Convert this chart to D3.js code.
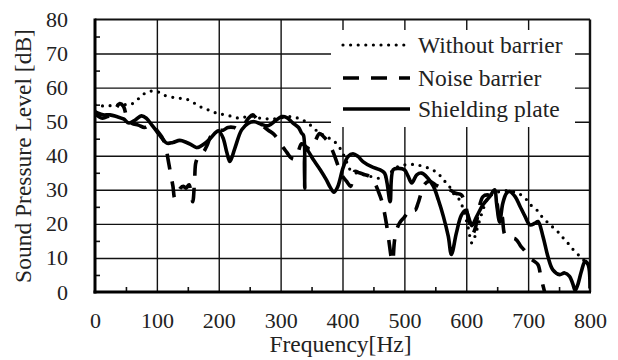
<!DOCTYPE html>
<html>
<head>
<meta charset="utf-8">
<script src="https://cdn.jsdelivr.net/npm/d3@7/dist/d3.min.js"></script>
<style>
  html, body { margin: 0; padding: 0; background: #fff; }
  svg { display: block; }
  text { font-family: "Liberation Serif", "Times New Roman", serif; fill: #222; }
</style>
</head>
<body>
<svg id="chart" width="618" height="360"></svg>
<script>
// Frequency axis ticks and level axis ticks
const xTicks = [0, 100, 200, 300, 400, 500, 600, 700, 800];
const yTicks = [0, 10, 20, 30, 40, 50, 60, 70, 80];
const seriesNames = ["Without barrier", "Noise barrier", "Shielding plate"];

// Without barrier (dotted)
const freqWithout = [0, 8, 16, 24, 32, 40, 48, 57, 67, 77, 88, 100, 110, 124, 136, 148, 160, 170, 180, 191, 200, 210, 223, 234, 245, 255, 265, 275, 285, 300, 312, 323, 334, 345, 355, 369, 380, 388, 396, 405, 412, 423, 433, 444, 458, 470, 480, 490, 504, 517, 530, 544, 555, 563, 571, 579, 587, 594, 603, 609, 614, 618, 622, 627, 635, 646, 660, 673, 684, 695, 704, 714, 722, 730, 739, 749, 757, 765, 774, 784, 792, 800];
const dbWithout = [55, 54.7, 54.6, 54.7, 54.8, 55, 55, 55, 56.2, 57.9, 58.9, 58.9, 57.9, 57.2, 56.9, 56.6, 55.5, 54.4, 53.7, 52.8, 52.4, 52, 51.5, 51, 51.5, 51.6, 51.1, 50.9, 50.8, 51.1, 51.5, 51.3, 50.6, 49.5, 47.8, 46.1, 45, 44, 42.2, 39, 36, 34.9, 34.5, 34, 33.4, 34, 35.5, 36.8, 37.4, 37.4, 36.9, 36, 34.7, 32.9, 31.5, 29, 27.6, 25, 19, 14.4, 16.3, 18.8, 21.2, 24.1, 27.6, 29, 29.7, 29.6, 29, 27.6, 25.6, 24.1, 22.2, 20.7, 19.2, 17.5, 15.8, 14.2, 12.2, 10.4, 9, 8];

// Noise barrier (dashed)
const freqNoise = [0, 6, 12, 20, 28, 34, 40, 46, 52, 60, 70, 80, 88, 95, 100, 108, 114, 118, 122, 126, 129, 133, 138, 143, 147, 152, 155, 158, 161, 163, 168, 175, 181, 188, 195, 200, 207, 215, 225, 232, 240, 248, 255, 262, 270, 280, 288, 295, 302, 310, 316, 322, 328, 334, 342, 348, 355, 363, 370, 377, 385, 393, 400, 407, 413, 420, 427, 435, 444, 452, 458, 463, 467, 471, 475, 479, 481, 484, 488, 493, 500, 510, 517, 522, 527, 532, 540, 550, 560, 573, 583, 592, 598, 604, 610, 615, 620, 627, 634, 641, 648, 652, 655, 658, 662, 668, 680, 688, 695, 702, 710, 716, 721, 726, 729];
const dbNoise = [52.5, 51.5, 51, 51.5, 52.5, 54, 55.3, 54.5, 51, 49.5, 49, 48.3, 49, 49, 47.5, 45.5, 43, 39, 35, 31, 27.5, 28.5, 30.5, 31, 30.5, 31.5, 29, 26.5, 33, 38, 40, 41, 43, 46, 47, 47.5, 47.5, 48.3, 48.3, 47.8, 49, 51, 52, 50.7, 49, 47.5, 46.5, 45, 43, 41, 39.5, 39, 41, 43.5, 42.5, 42, 44, 46.5, 45.5, 44, 41, 37, 34, 32.4, 31, 35.4, 35, 34.5, 33.9, 32, 29.5, 27, 24, 20, 15, 10, 9, 15, 18.5, 20.5, 22, 24.5, 24, 26, 29, 31.5, 32.5, 31.5, 30.5, 30, 29, 28.5, 26, 21, 17, 19, 24, 28, 28.5, 28, 27, 23, 20, 22, 17, 16, 15.5, 13.5, 12, 10, 9, 8, 4, 0.5, -2];

// Shielding plate (solid)
const freqShield = [0, 5, 13, 24, 35, 46, 55, 65, 75, 83, 92, 100, 108, 116, 126, 137, 148, 158, 165, 175, 186, 196, 200, 207, 213, 218, 226, 237, 248, 258, 269, 280, 291, 302, 310, 320, 329, 334, 337, 339, 341, 353, 364, 374, 380, 386, 392, 401, 409, 417, 425, 433, 447, 460, 468, 472, 477, 482, 490, 500, 506, 512, 520, 528, 538, 547, 555, 563, 571, 576, 584, 592, 599, 606, 609, 617, 627, 638, 646, 649, 654, 659, 665, 670, 679, 687, 695, 703, 711, 716, 724, 732, 740, 751, 759, 767, 772, 776, 780, 786, 792, 797, 800];
const dbShield = [53, 52.5, 52, 52, 51.5, 50.8, 49.6, 50.5, 51.7, 51, 49, 47.1, 45.2, 43.7, 43.9, 44.5, 43.9, 43, 42.4, 43.3, 45, 47, 47.3, 45.2, 41, 38.3, 42.2, 47.6, 49.6, 50, 49.2, 48.8, 50.2, 51.5, 51.2, 49.6, 48.3, 46.6, 46, 30.5, 42, 38.8, 35.9, 32.9, 30.8, 29.3, 30.8, 36.5, 39.8, 40.6, 39.8, 38.3, 36.8, 35.9, 34.9, 32, 26.5, 35.9, 36.3, 35.9, 34, 32, 34.4, 34.9, 33.4, 31, 27, 22.2, 16.3, 11, 17.3, 22.5, 24, 20.7, 19.5, 22.2, 25.6, 28, 30, 26, 20.5, 26, 29, 29.5, 28, 25.1, 22.2, 19.7, 20.2, 20.7, 16.3, 10.4, 6.5, 5.1, 5.6, 4.6, 2.5, 0.5, 2, 6, 9, 8, 1];

const svg = d3.select("#chart");
const plotLeft = 95, plotRight = 590, plotTop = 19.5, plotBottom = 292;

const x = d3.scaleLinear().domain([0, 800]).range([plotLeft, plotRight]);
const y = d3.scaleLinear().domain([0, 80]).range([plotBottom, plotTop]);

svg.append("defs").append("clipPath").attr("id", "plotClip")
  .append("rect").attr("x", plotLeft).attr("y", plotTop)
  .attr("width", plotRight - plotLeft).attr("height", plotBottom - plotTop);

// Grid lines
svg.append("g").attr("transform", `translate(0,${plotBottom})`)
  .call(d3.axisBottom(x).tickValues(xTicks.slice(1, -1)).tickSize(-(plotBottom - plotTop)).tickFormat(""))
  .call(g => g.select(".domain").remove())
  .selectAll("line").attr("stroke", "#111").attr("stroke-width", 1.4);
svg.append("g").attr("transform", `translate(${plotLeft},0)`)
  .call(d3.axisLeft(y).tickValues(yTicks.slice(1, -1)).tickSize(-(plotRight - plotLeft)).tickFormat(""))
  .call(g => g.select(".domain").remove())
  .selectAll("line").attr("stroke", "#111").attr("stroke-width", 1.4);

// Minor inward ticks
const xMinor = d3.range(50, 800, 100);
const yMinor = d3.range(5, 80, 10);
svg.append("g").attr("transform", `translate(0,${plotBottom})`)
  .call(d3.axisBottom(x).tickValues(xMinor).tickSize(-5).tickFormat(""))
  .call(g => g.select(".domain").remove())
  .selectAll("line").attr("stroke", "#111").attr("stroke-width", 1.6);
svg.append("g").attr("transform", `translate(${plotLeft},0)`)
  .call(d3.axisLeft(y).tickValues(yMinor).tickSize(-5).tickFormat(""))
  .call(g => g.select(".domain").remove())
  .selectAll("line").attr("stroke", "#111").attr("stroke-width", 1.6);

// Frame
svg.append("line").attr("x1", plotLeft).attr("x2", plotRight).attr("y1", plotTop).attr("y2", plotTop)
  .attr("stroke", "#111").attr("stroke-width", 2);
svg.append("line").attr("x1", plotRight).attr("x2", plotRight).attr("y1", plotTop).attr("y2", plotBottom)
  .attr("stroke", "#111").attr("stroke-width", 2.4);

// Tick labels
svg.append("g").attr("transform", `translate(0,${plotBottom})`)
  .call(d3.axisBottom(x).tickValues(xTicks).tickSize(0).tickPadding(20).tickFormat(d3.format("d")))
  .call(g => g.select(".domain").remove())
  .selectAll("text").attr("font-size", 22).style("font-family", '"Liberation Serif", serif').attr("fill", "#222");
svg.append("g").attr("transform", `translate(${plotLeft},0)`)
  .call(d3.axisLeft(y).tickValues(yTicks).tickSize(0).tickPadding(27).tickFormat(d3.format("d")))
  .call(g => g.select(".domain").remove())
  .selectAll("text").attr("font-size", 22).style("font-family", '"Liberation Serif", serif').attr("fill", "#222");

// Series
const line = d3.line().x(d => x(d[0])).y(d => y(d[1])).curve(d3.curveCatmullRom.alpha(0.5));
const plot = svg.append("g").attr("clip-path", "url(#plotClip)");

const series = [
  { name: seriesNames[0], f: freqWithout, v: dbWithout, dash: "0 7.6", width: 3.2, cap: "round" },
  { name: seriesNames[1], f: freqNoise, v: dbNoise, dash: "16 12", width: 3.6, cap: "butt" },
  { name: seriesNames[2], f: freqShield, v: dbShield, dash: null, width: 3.6, cap: "butt" }
];
series.forEach(s => {
  plot.append("path")
    .datum(s.f.map((f, i) => [f, s.v[i]]))
    .attr("d", line)
    .attr("fill", "none")
    .attr("stroke", "#000")
    .attr("stroke-width", s.width)
    .attr("stroke-linecap", s.cap)
    .attr("stroke-linejoin", "round")
    .attr("stroke-dasharray", s.dash);
});

// Axis lines (left and bottom, heavier)
svg.append("line").attr("x1", plotLeft).attr("x2", plotLeft).attr("y1", plotTop - 1).attr("y2", plotBottom + 1.5)
  .attr("stroke", "#000").attr("stroke-width", 3);
svg.append("line").attr("x1", plotLeft - 1.5).attr("x2", plotRight + 1).attr("y1", plotBottom).attr("y2", plotBottom)
  .attr("stroke", "#000").attr("stroke-width", 3);

// Legend
const legend = svg.append("g");
legend.append("rect").attr("x", 331).attr("y", 30).attr("width", 244).attr("height", 97).attr("fill", "#fff");
const legendY = [45, 78, 109];
series.forEach((s, i) => {
  legend.append("line")
    .attr("x1", 343).attr("x2", 410).attr("y1", legendY[i]).attr("y2", legendY[i])
    .attr("stroke", "#000").attr("stroke-width", s.width)
    .attr("stroke-linecap", s.cap)
    .attr("stroke-dasharray", s.dash);
  legend.append("text").attr("x", 418).attr("y", legendY[i] + 8)
    .attr("font-size", 23.5).text(s.name);
});

// Axis titles
svg.append("text").attr("x", (plotLeft + plotRight) / 2 - 2).attr("y", 352)
  .attr("text-anchor", "middle").attr("font-size", 23.5).text("Frequency[Hz]");
svg.append("text").attr("transform", "translate(31,156) rotate(-90)")
  .attr("text-anchor", "middle").attr("font-size", 23.5).text("Sound Pressure Level [dB]");
</script>
</body>
</html>
